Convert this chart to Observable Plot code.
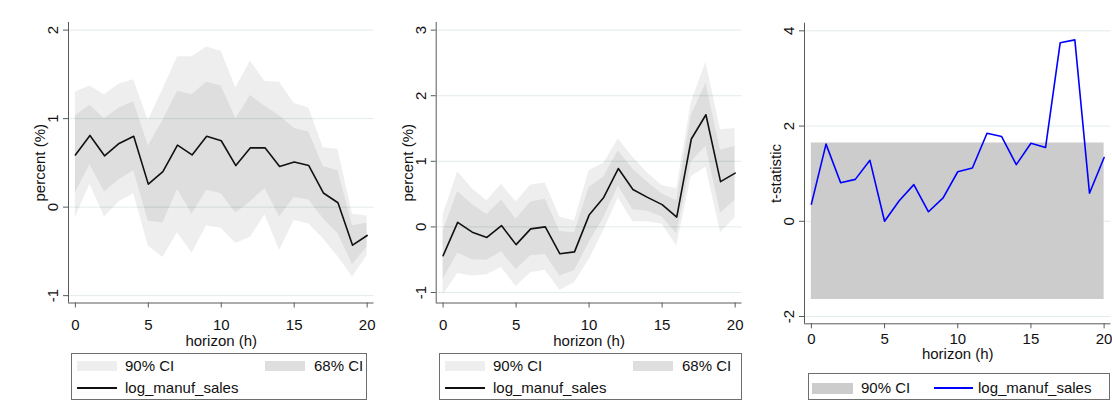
<!DOCTYPE html>
<html>
<head>
<meta charset="utf-8">
<script src="https://cdn.jsdelivr.net/npm/d3@7"></script>
<script src="https://cdn.jsdelivr.net/npm/@observablehq/plot@0.6"></script>
<style>
  body { margin: 0; background: #fff; font-family: "Liberation Sans", Arial, sans-serif; }
  #wrap { position: relative; width: 1112px; height: 400px; overflow: hidden; }
  .panel { position: absolute; top: 0; }
  .box { position: absolute; border: 1px solid #6e6e6e; box-sizing: border-box; }
  .lab { position: absolute; font-size: 15px; line-height: 20px; height: 20px; color: #111; white-space: nowrap; }
  .sw { position: absolute; }
</style>
</head>
<body>
<div id="wrap"></div>
<script>
// Local projection impulse responses of log manufacturing sales, horizons 0-20
const horizon = [0,1,2,3,4,5,6,7,8,9,10,11,12,13,14,15,16,17,18,19,20];
const xTicks = [0, 5, 10, 15, 20];

// Left panel: response in percent with 68% and 90% confidence bands
const sales1 = [0.59,0.81,0.58,0.72,0.80,0.26,0.40,0.70,0.59,0.80,0.75,0.47,0.67,0.67,0.46,0.51,0.47,0.16,0.05,-0.43,-0.32];
const hi90_1 = [1.30,1.37,1.27,1.39,1.44,0.98,1.33,1.70,1.70,1.81,1.76,1.35,1.65,1.42,1.41,1.17,1.12,0.67,0.65,-0.08,-0.10];
const hi68_1 = [1.03,1.15,1.00,1.12,1.19,0.69,0.98,1.31,1.27,1.41,1.37,1.00,1.26,1.14,1.03,0.89,0.85,0.46,0.41,-0.21,-0.18];
const lo68_1 = [0.16,0.48,0.17,0.31,0.41,-0.16,-0.18,0.20,-0.08,0.19,0.15,-0.07,0.06,0.21,-0.11,0.11,0.08,-0.13,-0.30,-0.65,-0.45];
const lo90_1 = [-0.12,0.26,-0.11,0.06,0.15,-0.44,-0.57,-0.29,-0.52,-0.21,-0.24,-0.41,-0.34,-0.09,-0.49,-0.15,-0.19,-0.36,-0.56,-0.79,-0.55];
const yTicks1 = [-1, 0, 1, 2];

// Middle panel
const sales2 = [-0.44,0.07,-0.08,-0.16,0.02,-0.27,-0.03,0.00,-0.41,-0.38,0.18,0.45,0.89,0.57,0.45,0.34,0.15,1.34,1.71,0.69,0.82];
const hi90_2 = [0.18,0.84,0.58,0.40,0.65,0.38,0.64,0.67,0.15,0.09,0.86,0.97,1.34,1.06,0.82,0.63,0.58,1.90,2.51,1.48,1.50];
const hi68_2 = [-0.07,0.54,0.34,0.19,0.41,0.12,0.38,0.42,-0.07,-0.09,0.60,0.76,1.16,0.88,0.68,0.50,0.40,1.70,2.19,1.17,1.23];
const lo68_2 = [-0.80,-0.40,-0.50,-0.51,-0.38,-0.65,-0.44,-0.42,-0.75,-0.67,-0.24,0.14,0.62,0.26,0.24,0.15,-0.11,0.99,1.23,0.21,0.41];
const lo90_2 = [-1.04,-0.71,-0.75,-0.73,-0.62,-0.91,-0.70,-0.66,-0.97,-0.85,-0.50,-0.06,0.44,0.08,0.08,0.04,-0.29,0.77,0.91,-0.09,0.14];
const yTicks2 = [-1, 0, 1, 2, 3];

// Right panel: t-statistics against the 90% critical value
const tstat = [0.36,1.62,0.81,0.88,1.28,0.00,0.43,0.77,0.20,0.49,1.04,1.12,1.85,1.78,1.19,1.64,1.55,3.75,3.81,0.59,1.34];
const tCrit = 1.645;
const yTicks3 = [-2, 0, 2, 4];

const legendText = { ci90: "90% CI", ci68: "68% CI", series: "log_manuf_sales" };

const axisColor = "#5a5a5a";
const gridColor = "#e2ebeb";
const font = "'Liberation Sans', Arial, sans-serif";
const wrap = document.getElementById("wrap");

function panel(cfg) {
  const xDomain = [-0.47, 20.47];
  const marks = [
    Plot.ruleY(cfg.yTicks, {stroke: gridColor, strokeWidth: 1}),
    ...cfg.marks,
    Plot.ruleX([xDomain[0]], {stroke: axisColor, strokeWidth: 1}),
    Plot.ruleY([cfg.yDomain[0]], {stroke: axisColor, strokeWidth: 1}),
    Plot.axisY({ticks: cfg.yTicks, tickSize: 5, tickFormat: () => "", stroke: axisColor, label: null}),
    Plot.text(cfg.yTicks, {
      y: d => d, text: d => String(d), frameAnchor: "left", dx: -15,
      rotate: -90, textAnchor: "middle", lineAnchor: "middle", fill: "#111"
    }),
    Plot.text([cfg.yTitle], {
      text: d => d, frameAnchor: "left", dx: -28.5,
      rotate: -90, textAnchor: "middle", lineAnchor: "middle", fill: "#111"
    }),
    Plot.axisX({ticks: xTicks, tickSize: 5, tickPadding: cfg.xPad, tickFormat: d => String(d),
      stroke: axisColor, fill: "#111", label: null}),
    Plot.text(["horizon (h)"], {
      text: d => d, frameAnchor: "bottom", dy: cfg.xTitleDy, lineAnchor: "top", fill: "#111"
    })
  ];
  const svg = Plot.plot({
    width: cfg.width,
    height: cfg.height,
    marginLeft: cfg.marginLeft,
    marginRight: cfg.marginRight,
    marginTop: cfg.marginTop,
    marginBottom: cfg.height - cfg.axisBottom,
    x: {domain: xDomain, label: null},
    y: {domain: cfg.yDomain, label: null},
    style: {fontFamily: font, fontSize: "15px", background: "transparent", overflow: "visible"},
    marks
  });
  svg.classList.add("panel");
  svg.style.left = cfg.left + "px";
  wrap.appendChild(svg);
}

function bandMarks(center, lo90, hi90, lo68, hi68) {
  const rows = horizon.map((h, i) => ({h, c: center[i], lo90: lo90[i], hi90: hi90[i], lo68: lo68[i], hi68: hi68[i]}));
  return [
    Plot.areaY(rows, {x: "h", y1: "lo90", y2: "hi90", fill: "#000", fillOpacity: 0.066}),
    Plot.areaY(rows, {x: "h", y1: "lo68", y2: "hi68", fill: "#000", fillOpacity: 0.066}),
    Plot.lineY(rows, {x: "h", y: "c", stroke: "#111", strokeWidth: 1.6})
  ];
}

panel({
  left: 0, width: 378, height: 354, marginLeft: 68, marginRight: 4.5, marginTop: 22, axisBottom: 302.5,
  yDomain: [-1.083, 2.086], yTicks: yTicks1, yTitle: "percent (%)", xPad: 11.5, xTitleDy: 32,
  marks: bandMarks(sales1, lo90_1, hi90_1, lo68_1, hi68_1)
});

panel({
  left: 378, width: 370, height: 354, marginLeft: 57.7, marginRight: 6.5, marginTop: 22, axisBottom: 302.5,
  yDomain: [-1.16, 3.116], yTicks: yTicks2, yTitle: "percent (%)", xPad: 11.5, xTitleDy: 32,
  marks: bandMarks(sales2, lo90_2, hi90_2, lo68_2, hi68_2)
});

const tRows = horizon.map((h, i) => ({h, t: tstat[i]}));
panel({
  left: 748, width: 364, height: 366, marginLeft: 56, marginRight: 1.5, marginTop: 22.7, axisBottom: 323.3,
  yDomain: [-2.153, 4.16], yTicks: yTicks3, yTitle: "t-statistic", xPad: 5, xTitleDy: 25,
  marks: [
    Plot.areaY(tRows, {x: "h", y1: () => -tCrit, y2: () => tCrit, fill: "#cccccc"}),
    Plot.lineY(tRows, {x: "h", y: "t", stroke: "#0000ff", strokeWidth: 1.6})
  ]
});

// Legends below each panel
function el(cls, css, text) {
  const d = document.createElement("div");
  d.className = cls;
  Object.assign(d.style, css);
  if (text) d.textContent = text;
  wrap.appendChild(d);
  return d;
}
function fillKey(x, y, w, h, color) { el("sw", {left: x + "px", top: y + "px", width: w + "px", height: h + "px", background: color}); }
function lineKey(x, y, w, color) { el("sw", {left: x + "px", top: (y - 1) + "px", width: w + "px", height: "2px", background: color}); }
function label(x, yc, text) { el("lab", {left: x + "px", top: (yc - 10) + "px"}, text); }

function twoRowLegend(x0, w) {
  el("box", {left: x0 + "px", top: "353px", width: w + "px", height: "47px"});
  fillKey(x0 + 6, 361, 40, 10, "#eeeeee");
  label(x0 + 54, 366, legendText.ci90);
  fillKey(x0 + 194, 361, 40, 10, "#dedede");
  label(x0 + 243, 366, legendText.ci68);
  lineKey(x0 + 6, 388, 40, "#111");
  label(x0 + 54, 388, legendText.series);
}
twoRowLegend(71, 296);
twoRowLegend(439, 303);

el("box", {left: "808px", top: "373px", width: "302px", height: "27px"});
fillKey(812, 382.5, 41, 11, "#cccccc");
label(861, 388, legendText.ci90);
lineKey(934, 388, 39, "#0000ff");
label(978, 388, legendText.series);
</script>
</body>
</html>
